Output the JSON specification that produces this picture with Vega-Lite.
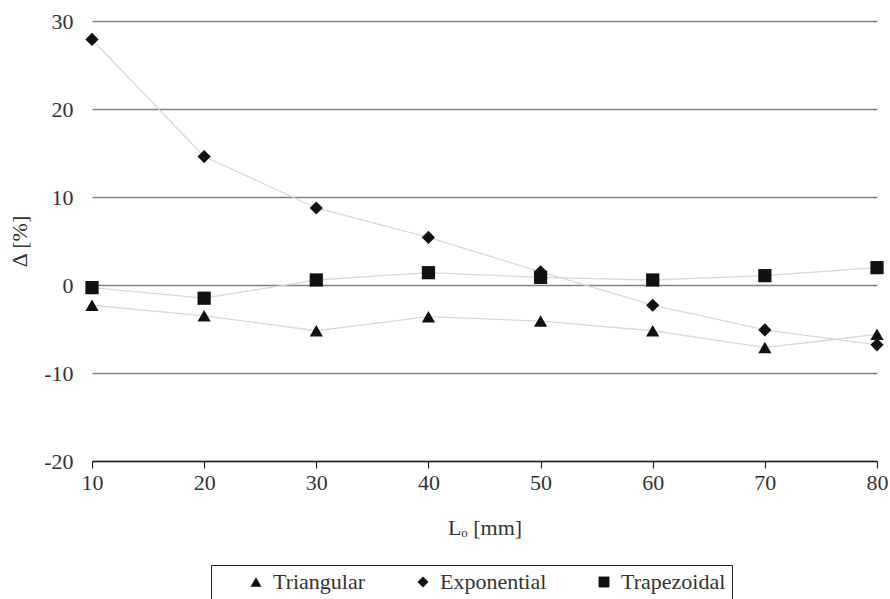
{
  "$schema": "https://vega.github.io/schema/vega-lite/v6.json",
  "width": 785,
  "height": 440,
  "autosize": {"type": "none"},
  "padding": {"left": 92, "top": 21, "right": 13, "bottom": 138},
  "background": "white",
  "data": {
    "values": [
      {"L": 10, "series": "Triangular", "delta": -2.3},
      {"L": 20, "series": "Triangular", "delta": -3.5},
      {"L": 30, "series": "Triangular", "delta": -5.2},
      {"L": 40, "series": "Triangular", "delta": -3.6},
      {"L": 50, "series": "Triangular", "delta": -4.1},
      {"L": 60, "series": "Triangular", "delta": -5.2},
      {"L": 70, "series": "Triangular", "delta": -7.1},
      {"L": 80, "series": "Triangular", "delta": -5.6},
      {"L": 10, "series": "Exponential", "delta": 27.9},
      {"L": 20, "series": "Exponential", "delta": 14.6},
      {"L": 30, "series": "Exponential", "delta": 8.75},
      {"L": 40, "series": "Exponential", "delta": 5.4},
      {"L": 50, "series": "Exponential", "delta": 1.5},
      {"L": 60, "series": "Exponential", "delta": -2.3},
      {"L": 70, "series": "Exponential", "delta": -5.1},
      {"L": 80, "series": "Exponential", "delta": -6.8},
      {"L": 10, "series": "Trapezoidal", "delta": -0.3},
      {"L": 20, "series": "Trapezoidal", "delta": -1.5},
      {"L": 30, "series": "Trapezoidal", "delta": 0.57},
      {"L": 40, "series": "Trapezoidal", "delta": 1.4},
      {"L": 50, "series": "Trapezoidal", "delta": 0.87},
      {"L": 60, "series": "Trapezoidal", "delta": 0.57},
      {"L": 70, "series": "Trapezoidal", "delta": 1.06},
      {"L": 80, "series": "Trapezoidal", "delta": 1.97}
    ]
  },
  "encoding": {
    "x": {
      "field": "L", "type": "quantitative",
      "scale": {"domain": [10, 80], "nice": false, "zero": false},
      "axis": {
        "values": [10, 20, 30, 40, 50, 60, 70, 80],
        "grid": false,
        "domain": true, "domainColor": "#222", "domainWidth": 1.5,
        "ticks": true, "tickColor": "#222", "tickSize": 7, "tickWidth": 1.2,
        "labelFont": "Liberation Serif", "labelFontSize": 22, "labelColor": "#333",
        "labelPadding": 4, "labelFlush": false,
        "title": "Lₒ [mm]",
        "titleFont": "Liberation Serif", "titleFontSize": 22, "titleFontWeight": "normal",
        "titleColor": "#333", "titlePadding": 24
      }
    },
    "y": {
      "field": "delta", "type": "quantitative",
      "scale": {"domain": [-20, 30], "nice": false},
      "axis": {
        "values": [-20, -10, 0, 10, 20, 30],
        "grid": true, "gridColor": "#808080", "gridWidth": 1.4,
        "domain": false, "ticks": false,
        "labelFont": "Liberation Serif", "labelFontSize": 22, "labelColor": "#333",
        "labelPadding": 19, "labelExpr": "toString(datum.value)",
        "title": "Δ [%]",
        "titleFont": "Liberation Serif", "titleFontSize": 22, "titleFontWeight": "normal",
        "titleColor": "#333", "titlePadding": 12
      }
    }
  },
  "layer": [
    {
      "mark": {"type": "line", "color": "#d8d8d8", "strokeWidth": 1.3},
      "encoding": {"detail": {"field": "series"}}
    },
    {
      "mark": {"type": "point", "filled": true, "opacity": 1, "color": "#111", "size": 175},
      "encoding": {
        "shape": {
          "field": "series", "type": "nominal",
          "scale": {
            "domain": ["Triangular", "Exponential", "Trapezoidal"],
            "range": ["triangle-up", "diamond", "square"]
          },
          "legend": {
            "title": null,
            "orient": "none",
            "legendX": 119,
            "legendY": 544,
            "direction": "horizontal",
            "strokeColor": "#222",
            "padding": 6,
            "columnPadding": 18,
            "symbolFillColor": "#111",
            "symbolStrokeColor": "#111",
            "symbolStrokeWidth": 0,
            "symbolSize": 120,
            "symbolOffset": 28,
            "labelFont": "Liberation Serif",
            "labelFontSize": 22,
            "labelColor": "#333",
            "labelOffset": 6
          }
        }
      }
    }
  ],
  "config": {"view": {"stroke": null}}
}
